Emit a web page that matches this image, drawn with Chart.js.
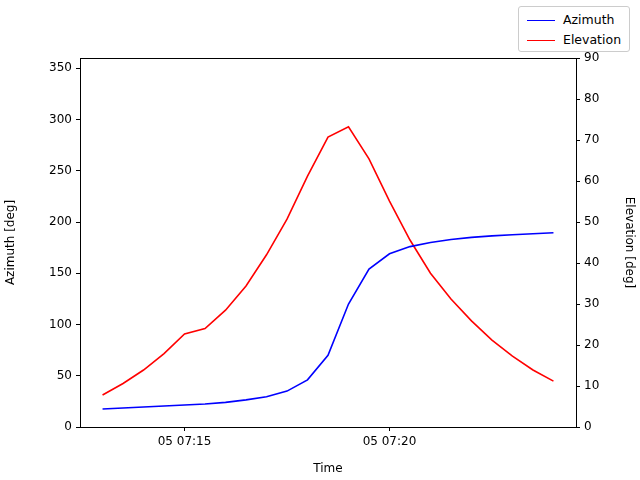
<!DOCTYPE html>
<html><head><meta charset="utf-8">
<script src="https://cdn.jsdelivr.net/npm/chart.js@4"></script>
<style>
body{margin:0;background:#fff;font-family:"DejaVu Sans",sans-serif}
#wrap{position:relative;width:640px;height:480px}
#leg{position:absolute;left:518px;top:6px;width:112px;height:46px;border:1px solid #ccc;border-radius:3px;background:#fff;font-size:12.5px;box-sizing:border-box}
#leg div{position:absolute;left:8px;height:20px;line-height:20px}
#leg span{display:inline-block;width:28px;height:0;border-top:1.6px solid;vertical-align:middle;margin-right:8px}
</style></head>
<body><div id="wrap"><canvas id="c" width="640" height="480"></canvas>
<div id="leg"><div style="top:3px"><span style="border-color:blue"></span>Azimuth</div><div style="top:23px"><span style="border-color:red"></span>Elevation</div></div></div>
<script>
const timesMin=[13,13.5,14,14.5,15,15.5,16,16.5,17,17.5,18,18.5,19,19.5,20,20.5,21,21.5,22,22.5,23,23.5,24];
const azimuth=[17.5,18.5,19.5,20.5,21.5,22.5,24,26.5,29.5,35,46,70,120,154,169,176,180,183,185,186.5,187.5,188.5,189.5];
const elevation=[7.8,10.6,13.9,17.9,19.5*1.0+3.2,24,28.5,34.4,42,50.7,61.2,70.7,73.2,65.4,55.1,45.6,37.5,31.2,25.9,21.2,17.3,13.9,11.2];
const xTicks=[15,20];
const azTicks=[0,50,100,150,200,250,300,350];
const elTicks=[0,10,20,30,40,50,60,70,80,90];
const F={family:"DejaVu Sans",size:12};
const pts=(v)=>timesMin.map((t,i)=>({x:t,y:v[i]}));
const box={id:'box',afterDraw(ch){const a=ch.chartArea,c=ch.ctx;c.save();c.strokeStyle='#000';c.lineWidth=1;c.strokeRect(a.left+0.5,a.top+0.5,a.right-a.left,a.bottom-a.top);c.restore();}};
const tickCfg={color:'#000',font:F,padding:4};
const grid={drawOnChartArea:false,color:'#000',tickLength:4,tickColor:'#000'};
new Chart(document.getElementById('c'),{type:'line',
data:{datasets:[
{label:'Azimuth',data:pts(azimuth),borderColor:'blue',borderWidth:1.6,pointRadius:0,yAxisID:'y',tension:0},
{label:'Elevation',data:pts(elevation),borderColor:'red',borderWidth:1.6,pointRadius:0,yAxisID:'y1',tension:0}]},
options:{responsive:false,animation:false,layout:{padding:{top:58}},
plugins:{legend:{display:false},tooltip:{enabled:false}},
scales:{
x:{type:'linear',min:12.45,max:24.55,grid,border:{color:'#000'},
 afterBuildTicks(s){s.ticks=xTicks.map(v=>({value:v}));},
 afterFit(s){s.height=53;},
 ticks:{...tickCfg,maxRotation:0,callback:v=>'05 07:'+String(v).padStart(2,'0')},
 title:{display:true,text:'Time',font:F,color:'#000',padding:{top:2}}},
y:{position:'left',min:0,max:360,grid,border:{color:'#000'},
 afterBuildTicks(s){s.ticks=azTicks.map(v=>({value:v}));},
 afterFit(s){s.width=80;},ticks:tickCfg,
 title:{display:true,text:'Azimuth [deg]',font:F,color:'#000'}},
y1:{position:'right',min:0,max:90,grid,border:{color:'#000'},
 afterBuildTicks(s){s.ticks=elTicks.map(v=>({value:v}));},
 afterFit(s){s.width=64;},ticks:tickCfg,
 title:{display:true,text:'Elevation [deg]',font:F,color:'#000'}}}},
plugins:[box]});
</script></body></html>
